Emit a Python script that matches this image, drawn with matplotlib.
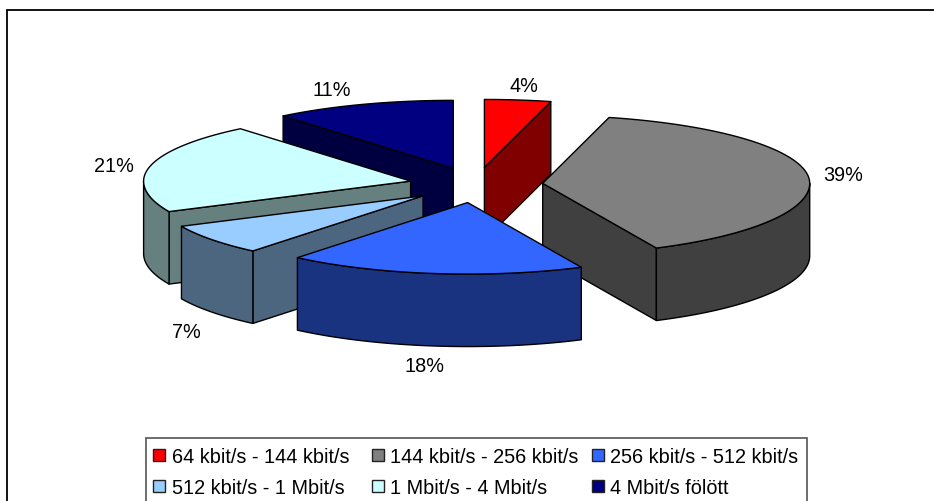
# 3D-style exploded pie of connection speeds, drawn with polygons
import numpy as np
import matplotlib
matplotlib.use("Agg")
import matplotlib.pyplot as plt
from matplotlib.patches import Polygon, Rectangle

plt.rcParams['font.family'] = ['Liberation Sans', 'DejaVu Sans']

W, H = 934, 502

categories = ['64 kbit/s - 144 kbit/s', '144 kbit/s - 256 kbit/s', '256 kbit/s - 512 kbit/s',
              '512 kbit/s - 1 Mbit/s', '1 Mbit/s - 4 Mbit/s', '4 Mbit/s fölött']
values = [4, 39, 18, 7, 21, 11]
colors = ['#ff0000', '#808080', '#3366ff', '#99ccff', '#ccffff', '#000080']
label_pos = [(524, 87), (843, 176), (424, 367), (186, 333), (114, 167), (332, 90)]

# pie geometry, in pixels
cx, cy = 476, 186
rx = 267
ry_back, ry_front = 68, 71.5  # near half of the ellipse is a little deeper
ex, ey = 67, 17.7
depth = 72.5
fs = 14.3

# back to front
draw_order = [0, 5, 4, 1, 3, 2]

fig = plt.figure(figsize=(W / 100, H / 100), dpi=100)
ax = fig.add_axes([0, 0, 1, 1])
ax.set_xlim(0, W)
ax.set_ylim(H, 0)
ax.axis('off')


def shade(c):
    return tuple(v * 0.5 for v in matplotlib.colors.to_rgb(c))


def point(ox, oy, th):
    ry = ry_back if np.cos(th) > 0 else ry_front
    return ox + rx * np.sin(th), oy - ry * np.cos(th)


edges = np.cumsum([0] + values) / float(sum(values)) * 2 * np.pi

for i in draw_order:
    t1, t2 = edges[i], edges[i + 1]
    mid = (t1 + t2) / 2
    ox = cx + ex * np.sin(mid)
    oy = cy - ey * np.cos(mid)
    side = shade(colors[i])
    kw = dict(edgecolor='black', linewidth=1.0, joinstyle='round')

    # radial faces turned towards the viewer
    for t, visible in ((t1, np.sin(t1) < 0), (t2, np.sin(t2) > 0)):
        if visible:
            p = point(ox, oy, t)
            pts = [(ox, oy), p, (p[0], p[1] + depth), (ox, oy + depth)]
            ax.add_patch(Polygon(pts, facecolor=side, zorder=1, **kw))

    # outer rim, only the lower half of the ellipse shows
    a, b = max(t1, np.pi / 2), min(t2, 3 * np.pi / 2)
    if a < b:
        th = np.linspace(a, b, 80)
        top = [point(ox, oy, t) for t in th]
        pts = top + [(x, y + depth) for x, y in top[::-1]]
        ax.add_patch(Polygon(pts, facecolor=side, zorder=1, **kw))

    # top face
    th = np.linspace(t1, t2, 120)
    pts = [(ox, oy)] + [point(ox, oy, t) for t in th]
    ax.add_patch(Polygon(pts, facecolor=colors[i], zorder=1, **kw))

for v, (x, y) in zip(values, label_pos):
    ax.text(x, y, '%d%%' % v, fontsize=fs, ha='center', va='center', color='black')

# chart frame, open on the right and at the bottom
ax.plot([7, 7, W + 5], [H + 5, 10.5, 10.5], color='black', lw=1.3, solid_joinstyle='miter')

# legend
ax.add_patch(Rectangle((145.5, 439), 661, 70, facecolor='white', edgecolor='#555555', linewidth=1.2))
col_x = [153, 372, 592]
row_y = [456, 487]
for i, name in enumerate(categories):
    x = col_x[i % 3]
    y = row_y[i // 3]
    ax.add_patch(Rectangle((x, y - 6), 12, 12, facecolor=colors[i], edgecolor='#222222', linewidth=1.0))
    ax.text(x + 18.5, y + 1.5, name, fontsize=fs, ha='left', va='center', color='black')

fig.savefig('out.png', dpi=100)
